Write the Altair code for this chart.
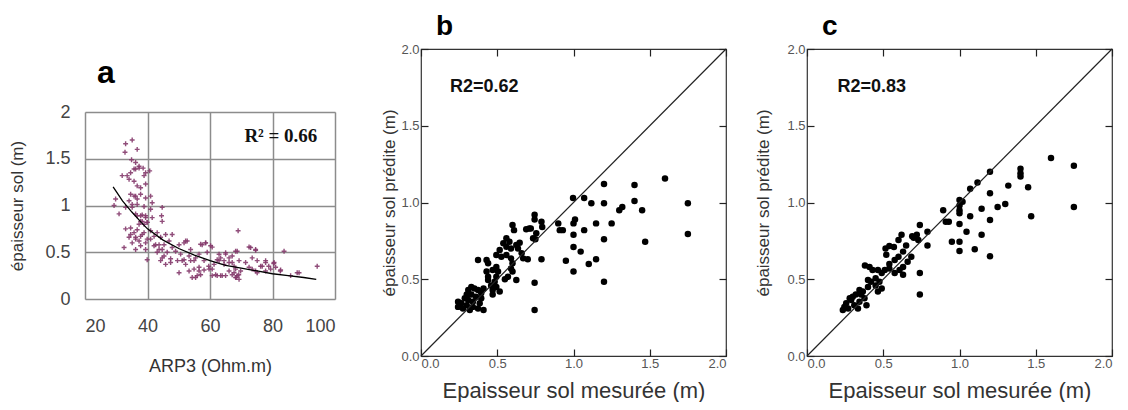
import altair as alt
import pandas as pd

# ---------------- Panel a : epaisseur sol vs ARP3 ----------------
a_arp = [33.0, 35.1, 36.7, 32.8, 34.9, 36.2, 37.3, 35.7, 34.6, 33.5, 31.9, 34.1, 35.7, 38.6, 39.4,
         40.7, 37.8, 39.4, 34.6, 36.2, 37.8, 39.4, 41.0, 41.5, 34.1, 33.0, 35.1, 36.7, 38.9, 41.0,
         29.8, 29.3, 30.9, 36.2, 37.8, 39.4, 38.3, 39.9, 37.3, 41.5, 44.7, 44.5, 44.7, 33.0, 34.6,
         36.2, 37.3, 35.1, 34.1, 38.3, 39.9, 37.8, 36.2, 32.5, 39.4, 41.0, 42.1, 43.1, 44.2, 42.6,
         43.7, 45.3, 45.8, 46.9, 47.9, 47.9, 46.3, 44.7, 39.9, 49.0, 50.1, 50.6, 51.7, 49.6, 47.4,
         50.1, 52.2, 53.8, 53.3, 54.9, 56.5, 57.5, 58.6, 60.2, 59.1, 58.1, 56.5, 55.4, 57.0, 59.7,
         61.3, 62.3, 63.4, 64.5, 65.0, 66.1, 67.1, 68.7, 69.0, 68.2, 67.1, 68.4, 69.2, 69.8, 61.8,
         63.4, 65.0, 66.1, 71.4, 73.0, 74.6, 73.5, 75.1, 76.2, 74.6, 72.5, 77.8, 77.8, 79.4, 80.5,
         81.0, 82.6, 83.7, 85.8, 88.5, 94.3,
         36.7, 38.3, 39.4, 37.8, 38.9, 39.9, 36.7, 35.7, 34.6, 37.8, 38.9, 36.2, 39.4, 41.0, 42.1,
         43.7, 44.7, 43.1, 45.3, 44.2, 45.8, 47.4, 35.7, 36.7, 35.1, 36.7, 36.2, 37.3, 38.9,
         51.7, 52.7, 57.0, 58.6, 60.7, 62.9, 65.0, 67.1, 68.2, 72.5, 74.6, 62.9, 64.5, 66.1, 67.7,
         69.3, 59.6, 60.7, 58.1, 56.5, 54.9, 53.3, 60.7, 62.3, 63.9, 67.7, 68.7, 69.3, 68.2, 73.5,
         75.1, 76.7, 77.8, 78.8, 80.4, 82.5, 87.9, 55.4, 53.8, 52.2, 51.1, 54.3, 55.9]
a_ep = [1.66, 1.70, 1.60, 1.57, 1.49, 1.46, 1.40, 1.39, 1.35, 1.32, 1.32, 1.28, 1.26, 1.40, 1.35,
        1.37, 1.19, 1.23, 1.12, 1.10, 1.12, 1.08, 1.10, 1.03, 1.05, 0.98, 0.98, 1.01, 0.99, 0.96,
        1.07, 1.00, 0.91, 0.91, 0.89, 0.89, 0.83, 0.82, 0.80, 0.87, 0.98, 0.89, 0.83, 0.75, 0.69,
        0.66, 0.62, 0.60, 0.66, 0.69, 0.64, 0.57, 0.53, 0.55, 0.53, 0.73, 0.67, 0.71, 0.66, 0.58,
        0.53, 0.58, 0.69, 0.62, 0.69, 0.55, 0.50, 0.44, 0.42, 0.51, 0.58, 0.48, 0.42, 0.41, 0.39,
        0.28, 0.62, 0.53, 0.46, 0.41, 0.48, 0.58, 0.60, 0.57, 0.50, 0.41, 0.34, 0.23, 0.26, 0.32,
        0.37, 0.42, 0.44, 0.41, 0.48, 0.44, 0.39, 0.51, 0.73, 0.32, 0.26, 0.23, 0.26, 0.30, 0.26,
        0.25, 0.25, 0.30, 0.39, 0.55, 0.52, 0.44, 0.41, 0.35, 0.30, 0.34, 0.41, 0.30, 0.32, 0.39,
        0.34, 0.31, 0.51, 0.25, 0.28, 0.35,
        0.89, 0.90, 0.87, 0.83, 0.80, 0.82, 0.74, 0.71, 0.76, 0.67, 0.71, 0.64, 0.60, 0.64, 0.57,
        0.58, 0.53, 0.50, 0.46, 0.41, 0.37, 0.43, 1.10, 1.07, 1.01, 1.21, 1.39, 1.42, 1.32,
        0.60, 0.62, 0.585, 0.60, 0.555, 0.478, 0.496, 0.46, 0.51, 0.556, 0.53, 0.41, 0.37, 0.39, 0.35,
        0.41, 0.35, 0.32, 0.31, 0.30, 0.32, 0.30, 0.25, 0.25, 0.25, 0.28, 0.25, 0.21, 0.23, 0.32,
        0.28, 0.35, 0.39, 0.35, 0.38, 0.30, 0.28, 0.44, 0.41, 0.37, 0.41, 0.23, 0.25]
curve_arp = [29, 32, 35, 38, 40, 45, 50, 55, 60, 65, 70, 75, 80, 85, 90, 94]
curve_ep = [1.20, 1.05, 0.93, 0.82, 0.75, 0.63, 0.54, 0.47, 0.41, 0.36, 0.33, 0.30, 0.27, 0.25, 0.23, 0.21]
a_ticks_x = [20, 40, 60, 80, 100]
a_ticks_y = [0, 0.5, 1, 1.5, 2]
a_r2 = {"x": [71.0], "y": [1.74], "t": ["R\u00b2 = 0.66"]}

# ---------------- Panels b and c : predite vs mesuree ----------------
b_mes = [1.60, 1.75, 1.75, 1.40, 1.40, 1.45, 1.47, 1.30, 1.32, 1.25, 1.20, 1.20, 1.20, 1.20, 1.148,
         1.148, 1.117, 1.07, 1.07, 1.10, 1.047, 0.997, 1.01, 1.00, 1.00, 1.00, 1.00, 0.95,
         0.745, 0.745, 0.79, 0.795, 0.71, 0.69, 0.735, 0.756, 0.60, 0.61, 0.90, 0.91, 0.93, 0.79,
         0.745, 0.745, 0.70, 0.66, 0.636, 0.67, 0.56, 0.58, 0.54, 0.56, 0.59, 0.625, 0.647, 0.516,
         0.494, 0.527, 0.56, 0.59, 0.60, 0.59, 0.60, 0.57, 0.625, 0.55, 0.494, 0.505, 0.47, 0.44,
         0.43, 0.374, 0.494, 0.483, 0.46, 0.47, 0.494, 0.516, 0.47, 0.43, 0.44, 0.44,
         0.41, 0.395, 0.374, 0.35, 0.33, 0.31, 0.30, 0.33, 0.36, 0.395, 0.385, 0.34, 0.31, 0.287,
         0.264, 0.243, 0.243, 0.30, 0.34, 0.374, 0.41, 0.32, 0.275, 0.75, 0.72]
b_pred = [1.157, 0.995, 0.795, 1.114, 1.01, 0.95, 0.745, 0.95, 0.97, 0.864, 1.12, 0.995, 0.76, 0.484, 0.864,
          0.63, 0.995, 1.03, 0.82, 0.60, 0.68, 1.03, 0.89, 0.864, 0.79, 0.71, 0.55, 0.62,
          0.92, 0.89, 0.875, 0.84, 0.83, 0.825, 0.767, 0.80, 0.853, 0.82, 0.864, 0.82, 0.82, 0.63,
          0.477, 0.30, 0.63, 0.67, 0.70, 0.636, 0.767, 0.745, 0.734, 0.712, 0.70, 0.723, 0.738, 0.69,
          0.658, 0.647, 0.658, 0.636, 0.604, 0.57, 0.55, 0.516, 0.495, 0.50, 0.58, 0.55, 0.56, 0.604,
          0.625, 0.625, 0.516, 0.484, 0.46, 0.43, 0.45, 0.42, 0.40, 0.55, 0.516, 0.495,
          0.44, 0.41, 0.43, 0.44, 0.45, 0.43, 0.40, 0.40, 0.386, 0.376, 0.343, 0.354, 0.365, 0.376,
          0.343, 0.32, 0.354, 0.33, 0.32, 0.31, 0.30, 0.30, 0.31, 0.76, 0.83]
c_mes = [1.60, 1.75, 1.75, 1.47, 1.40, 1.40, 1.40, 1.45, 1.32, 1.30, 1.25, 1.20, 1.20, 1.20, 1.20,
         1.145, 1.145, 1.118, 1.07, 1.07, 1.046, 1.10, 1.00, 1.00, 1.00, 1.00, 1.02, 1.00, 1.00, 1.00,
         0.95, 0.893, 0.91, 0.93, 0.79, 0.79, 0.74, 0.72, 0.73, 0.74, 0.74, 0.65, 0.62, 0.60, 0.57,
         0.54, 0.515, 0.63, 0.60, 0.575, 0.54, 0.52, 0.684, 0.66, 0.63, 0.607, 0.575, 0.63, 0.54, 0.51,
         0.49, 0.45, 0.475, 0.45, 0.49, 0.465, 0.43, 0.41, 0.38, 0.40, 0.42, 0.40, 0.366, 0.344, 0.32,
         0.30, 0.28, 0.257, 0.245, 0.235, 0.27, 0.31, 0.344, 0.377, 0.39, 0.334, 0.29, 0.355, 0.465,
         0.70, 0.69]
c_pred = [1.29, 1.24, 0.97, 0.91, 1.22, 1.19, 1.17, 1.10, 1.11, 0.99, 0.97, 1.20, 1.06, 0.886, 0.65,
          0.96, 0.79, 1.13, 1.09, 0.91, 0.81, 0.695, 1.016, 0.98, 0.95, 0.93, 1.005, 0.86, 0.745, 0.684,
          0.745, 0.95, 0.875, 0.875, 0.81, 0.72, 0.853, 0.79, 0.755, 0.54, 0.40, 0.72, 0.79, 0.755, 0.71,
          0.717, 0.70, 0.68, 0.647, 0.625, 0.60, 0.66, 0.647, 0.614, 0.58, 0.56, 0.54, 0.53, 0.57, 0.56,
          0.54, 0.506, 0.484, 0.46, 0.44, 0.42, 0.56, 0.58, 0.59, 0.495, 0.484, 0.45, 0.42, 0.43, 0.40,
          0.386, 0.376, 0.343, 0.32, 0.30, 0.31, 0.33, 0.354, 0.376, 0.33, 0.31, 0.365, 0.40, 0.56,
          0.77, 0.78]
diag = [0.0, 2.0]
bc_ticks = [0.0, 0.5, 1.0, 1.5, 2.0]
b_r2 = {"x": [0.19], "y": [1.75], "t": ["R2=0.62"]}
c_r2 = {"x": [0.20], "y": [1.75], "t": ["R2=0.83"]}

FONT = "Liberation Sans"
GRID = "#8c8c8c"

# ---------------- build panel a ----------------
ax_a = alt.Axis(values=a_ticks_x, title="ARP3 (Ohm.m)", grid=True, gridColor=GRID, gridWidth=1.5,
                domain=False, ticks=False, tickSize=0, labelFontSize=18, labelColor="#444",
                labelPadding=18, labelFont=FONT, titleFont=FONT, titleFontSize=18,
                titleFontWeight="normal", titleColor="#333", titlePadding=22)
ay_a = alt.Axis(values=a_ticks_y, format="~g", title="\u00e9paisseur  sol (m)", grid=True,
                gridColor=GRID, gridWidth=1.5, domain=False, ticks=False, tickSize=0,
                labelFontSize=18, labelColor="#444", labelPadding=15, labelFont=FONT,
                titleFont=FONT, titleFontSize=17, titleFontWeight="normal", titleColor="#333",
                titlePadding=18)
xa = alt.X("x:Q", scale=alt.Scale(domain=[20, 100], nice=False, zero=False), axis=ax_a)
ya = alt.Y("y:Q", scale=alt.Scale(domain=[0, 2], nice=False), axis=ay_a)

df_a = pd.DataFrame({"x": a_arp, "y": a_ep})
df_curve = pd.DataFrame({"x": curve_arp, "y": curve_ep})
df_ra = pd.DataFrame(a_r2)

a_pts = alt.Chart(df_a).mark_point(shape="M-1,0H1M0,-1V1", filled=False, strokeWidth=1.4,
                                   size=24, color="#853a6c", opacity=0.9).encode(x=xa, y=ya)
a_line = alt.Chart(df_curve).mark_line(color="black", strokeWidth=1.3).encode(x=xa, y=ya)
a_txt = alt.Chart(df_ra).mark_text(align="left", baseline="middle", font="Liberation Serif",
                                   fontWeight="bold", fontSize=19, color="#111").encode(
    x=xa, y=ya, text="t:N")

panel_a_core = alt.layer(a_pts, a_line, a_txt).properties(
    width=250, height=187,
    title=alt.TitleParams(text="a", anchor="start", frame="group", dx=12, fontSize=32,
                          fontWeight="bold", font=FONT, color="black", offset=13),
)

# invisible spacer that pushes panel a down below the top of panels b and c
spacer = alt.Chart(pd.DataFrame({"x": [0], "y": [0]})).mark_point(opacity=0).encode(
    x=alt.X("x:Q", axis=None), y=alt.Y("y:Q", axis=None)
).properties(width=250, height=7,
             view=alt.ViewBackground(stroke="transparent", strokeWidth=0, fill="transparent"))

panel_a = alt.vconcat(spacer, panel_a_core, spacing=0)


# ---------------- build panels b / c ----------------
def panel(mes, pred, r2, letter, ytp):
    sc = alt.Scale(domain=[0, 2], nice=False)
    common = dict(values=bc_ticks, tickSize=7, offset=-7, tickColor="#222", tickWidth=1.2,
                  domain=False, grid=False)
    xb = alt.X("x:Q", scale=sc, axis=alt.Axis(
        orient="bottom", format=".1f", labelFontSize=13, labelColor="#555", labelPadding=1,
        labelFont=FONT, title="Epaisseur sol mesur\u00e9e (m)", titleFont=FONT, titleFontSize=22,
        titleFontWeight="normal", titleColor="#333", titlePadding=10, **common))
    yb = alt.Y("y:Q", scale=sc, axis=alt.Axis(
        orient="left", format=".1f", labelFontSize=13, labelColor="#555", labelPadding=2,
        labelFont=FONT, title="\u00e9paisseur  sol pr\u00e9dite (m)", titleFont=FONT,
        titleFontSize=17, titleFontWeight="normal", titleColor="#333", titlePadding=ytp, **common))
    xt = alt.X("x:Q", scale=sc, axis=alt.Axis(orient="top", labels=False, title=None, **common))
    yt = alt.Y("y:Q", scale=sc, axis=alt.Axis(orient="right", labels=False, title=None, **common))

    df = pd.DataFrame({"x": mes, "y": pred})
    df_d = pd.DataFrame({"x": diag, "y": diag})
    df_r = pd.DataFrame(r2)

    pts = alt.Chart(df).mark_circle(size=42, color="black", opacity=1).encode(x=xb, y=yb)
    dl = alt.Chart(df_d).mark_line(color="#222", strokeWidth=1.2).encode(x=xt, y=yt)
    tx = alt.Chart(df_r).mark_text(align="left", baseline="middle", font=FONT, fontWeight="bold",
                                   fontSize=18, color="#111").encode(
        x=alt.X("x:Q", scale=sc, axis=None), y=alt.Y("y:Q", scale=sc, axis=None), text="t:N")
    return alt.layer(pts, dl, tx).resolve_axis(x="independent", y="independent").properties(
        width=305, height=307,
        view=alt.ViewBackground(stroke="#333", strokeWidth=1.2),
        title=alt.TitleParams(text=letter, anchor="start", frame="group", dx=15, fontSize=28,
                              fontWeight="bold", font=FONT, color="black", offset=2),
    )


panel_b = panel(b_mes, b_pred, b_r2, "b", 2)
panel_c = panel(c_mes, c_pred, c_r2, "c", 14)

chart = alt.hconcat(panel_a, alt.hconcat(panel_b, panel_c, spacing=25), spacing=44).properties(
    padding={"left": 0, "top": 4, "right": 0, "bottom": 0}
).configure_view(stroke="transparent").configure(font=FONT)

chart.save("out.html", embed_options={"renderer": "svg", "actions": False})
